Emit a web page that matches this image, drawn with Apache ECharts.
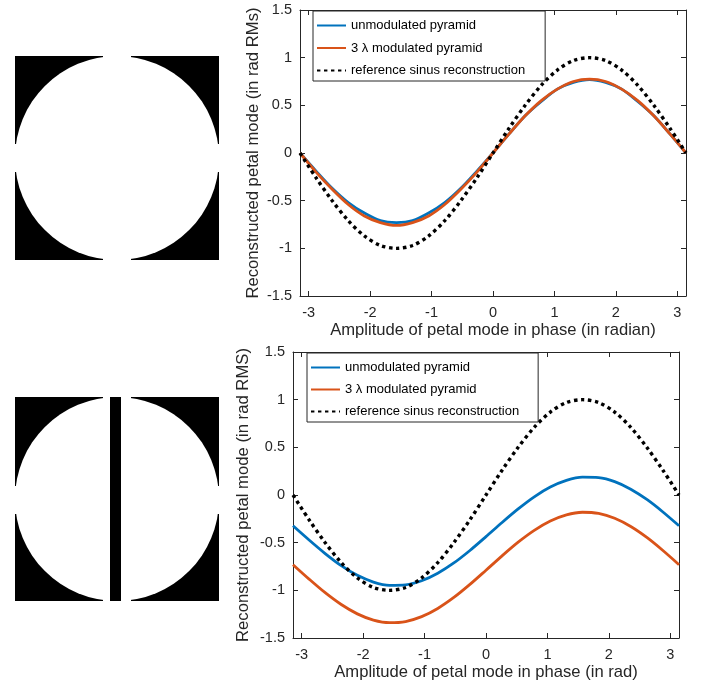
<!DOCTYPE html>
<html><head><meta charset="utf-8">
<script src="https://cdn.jsdelivr.net/npm/echarts@6/dist/echarts.min.js"></script>
<style>html,body{margin:0;padding:0;background:#fff}#c{width:701px;height:684px}</style>
</head><body><div id="c"></div>
<script>
// ---- data ----
const xs = [-3.1416,-2.8798,-2.618,-2.3562,-2.0944,-1.8326,-1.5708,-1.309,-1.0472,-0.7854,-0.5236,-0.2618,0,
            0.2618,0.5236,0.7854,1.0472,1.309,1.5708,1.8326,2.0944,2.3562,2.618,2.8798,3.1416];
const xTicks = [-3,-2,-1,0,1,2,3];
const seriesNames = ['unmodulated pyramid','3 \u03bb modulated pyramid','reference sinus reconstruction'];
const refSinus = [0,-0.26,-0.5,-0.71,-0.87,-0.97,-1,-0.97,-0.87,-0.71,-0.5,-0.26,0,0.26,0.5,0.71,0.87,0.97,1,0.97,0.87,0.71,0.5,0.26,0];
const topUnmod = [0,-0.19,-0.37,-0.52,-0.63,-0.71,-0.73,-0.71,-0.63,-0.52,-0.37,-0.19,0,0.2,0.39,0.54,0.67,0.74,0.77,0.74,0.67,0.54,0.39,0.2,0];
const topMod   = [0,-0.2,-0.38,-0.54,-0.66,-0.73,-0.76,-0.73,-0.66,-0.54,-0.38,-0.2,0,0.2,0.39,0.55,0.67,0.75,0.775,0.75,0.67,0.55,0.39,0.2,0];
const botUnmod = [-0.323,-0.472,-0.614,-0.741,-0.843,-0.913,-0.947,-0.942,-0.9,-0.821,-0.713,-0.582,-0.437,
                  -0.288,-0.146,-0.019,0.083,0.153,0.187,0.182,0.14,0.061,-0.047,-0.178,-0.323];
const botMod   = [-0.731,-0.882,-1.025,-1.149,-1.247,-1.312,-1.339,-1.327,-1.276,-1.19,-1.075,-0.938,-0.789,
                  -0.638,-0.495,-0.371,-0.273,-0.208,-0.181,-0.193,-0.244,-0.33,-0.445,-0.582,-0.731];
const xTitles = ['Amplitude of petal mode in phase (in radian)','Amplitude of petal mode in phase (in rad)'];
const yTitles = ['Reconstructed petal mode (in rad RMs)','Reconstructed petal mode (in rad RMS)'];

// ---- styling ----
const AX = '#262626';
const FONT = 'Liberation Sans, Arial, Helvetica, sans-serif';
const BLUE = '#0072BD', ORANGE = '#D95319';
const X_MIN = -Math.PI, X_MAX = Math.PI;

function pairs(arr){ return xs.map((x,i)=>[x, arr[i]]); }

function xAx(g, pos){
  const bottom = pos === 'bottom';
  return {gridIndex:g, type:'value', position:pos, min:X_MIN, max:X_MAX,
    axisLine:{show:true,onZero:false,lineStyle:{color:AX,width:1}},
    axisTick:{show:true,inside:true,length:5,customValues:xTicks,lineStyle:{color:AX,width:1}},
    axisLabel:{show:bottom,customValues:xTicks,margin:9,color:AX,fontSize:14.5,fontFamily:FONT},
    splitLine:{show:false},
    name: bottom ? xTitles[g] : '', nameLocation:'middle', nameGap:26, nameMoveOverlap:false,
    nameTextStyle:{color:AX,fontSize:16.6,fontFamily:FONT}};
}
function yAx(g, pos){
  const left = pos === 'left';
  return {gridIndex:g, type:'value', position:pos, min:-1.5, max:1.5, interval:0.5,
    axisLine:{show:true,onZero:false,lineStyle:{color:AX,width:1}},
    axisTick:{show:true,inside:true,length:5,lineStyle:{color:AX,width:1}},
    axisLabel:{show:left,margin:8,color:AX,fontSize:14.5,fontFamily:FONT},
    splitLine:{show:false},
    name: left ? yTitles[g] : '', nameLocation:'middle', nameGap: g===0 ? 38 : 41, nameMoveOverlap:false,
    nameTextStyle:{color:AX,fontSize:16.7,fontFamily:FONT}};
}
function line(g, name, arr, color, dotted){
  return {type:'line', name:name, xAxisIndex:g*2, yAxisIndex:g*2, data:pairs(arr),
    symbol:'none', showSymbol:false, silent:true, smooth:0.3,
    lineStyle: dotted ? {color:'#000',width:3.4,type:[3.4,3.6],cap:'butt'} : {color:color,width:2.8},
    itemStyle:{color: dotted ? '#000' : color}, z: dotted ? 3 : 2};
}
function legend(left, top, gap, padR){
  return {orient:'vertical', left:left, top:top, data:seriesNames, selectedMode:false,
    itemWidth:29, itemHeight:14, itemGap:gap, padding:[8,padR,4,3],
    itemStyle:{opacity:0},
    borderColor:AX, borderWidth:1, backgroundColor:'#fff',
    textStyle:{fontSize:13,color:'#000',fontFamily:FONT}};
}
function pupil(x0, y0, size, gapL, gapR, gapT, gapB, bar){
  const els = [];
  const cx = x0 + size/2, cy = y0 + size/2;
  const rects = [
    [x0, y0, gapL - x0, gapT - y0],
    [gapR, y0, x0 + size - gapR, gapT - y0],
    [x0, gapB, gapL - x0, y0 + size - gapB],
    [gapR, gapB, x0 + size - gapR, y0 + size - gapB]
  ];
  rects.forEach(r => els.push({type:'rect', silent:true, z:1, shape:{x:r[0],y:r[1],width:r[2],height:r[3]}, style:{fill:'#000'}}));
  els.push({type:'circle', silent:true, z:2, shape:{cx:cx, cy:cy, r:size/2}, style:{fill:'#fff'}});
  if (bar) els.push({type:'rect', silent:true, z:3, shape:{x:bar[0],y:y0,width:bar[1]-bar[0],height:size}, style:{fill:'#000'}});
  return els;
}

const chart = echarts.init(document.getElementById('c'), null, {renderer:'canvas'});
chart.setOption({
  animation:false,
  backgroundColor:'#fff',
  grid:[
    {left:300, top:10, width:386, height:286, containLabel:false},
    {left:293, top:352, width:386, height:286, containLabel:false}
  ],
  xAxis:[xAx(0,'bottom'), xAx(0,'top'), xAx(1,'bottom'), xAx(1,'top')],
  yAxis:[yAx(0,'left'), yAx(0,'right'), yAx(1,'left'), yAx(1,'right')],
  legend:[legend(313, 11, 9.5, 20), legend(307, 353, 9, 19)],
  series:[
    line(0, seriesNames[0], topUnmod, BLUE, false),
    line(0, seriesNames[1], topMod, ORANGE, false),
    line(0, seriesNames[2], refSinus, '#000', true),
    line(1, seriesNames[0], botUnmod, BLUE, false),
    line(1, seriesNames[1], botMod, ORANGE, false),
    line(1, seriesNames[2], refSinus, '#000', true)
  ],
  graphic: [].concat(
    pupil(15, 56, 204, 103, 131, 144, 172, null),
    pupil(15, 397, 204, 103, 131, 486, 514, [110, 121])
  )
});
</script></body></html>
